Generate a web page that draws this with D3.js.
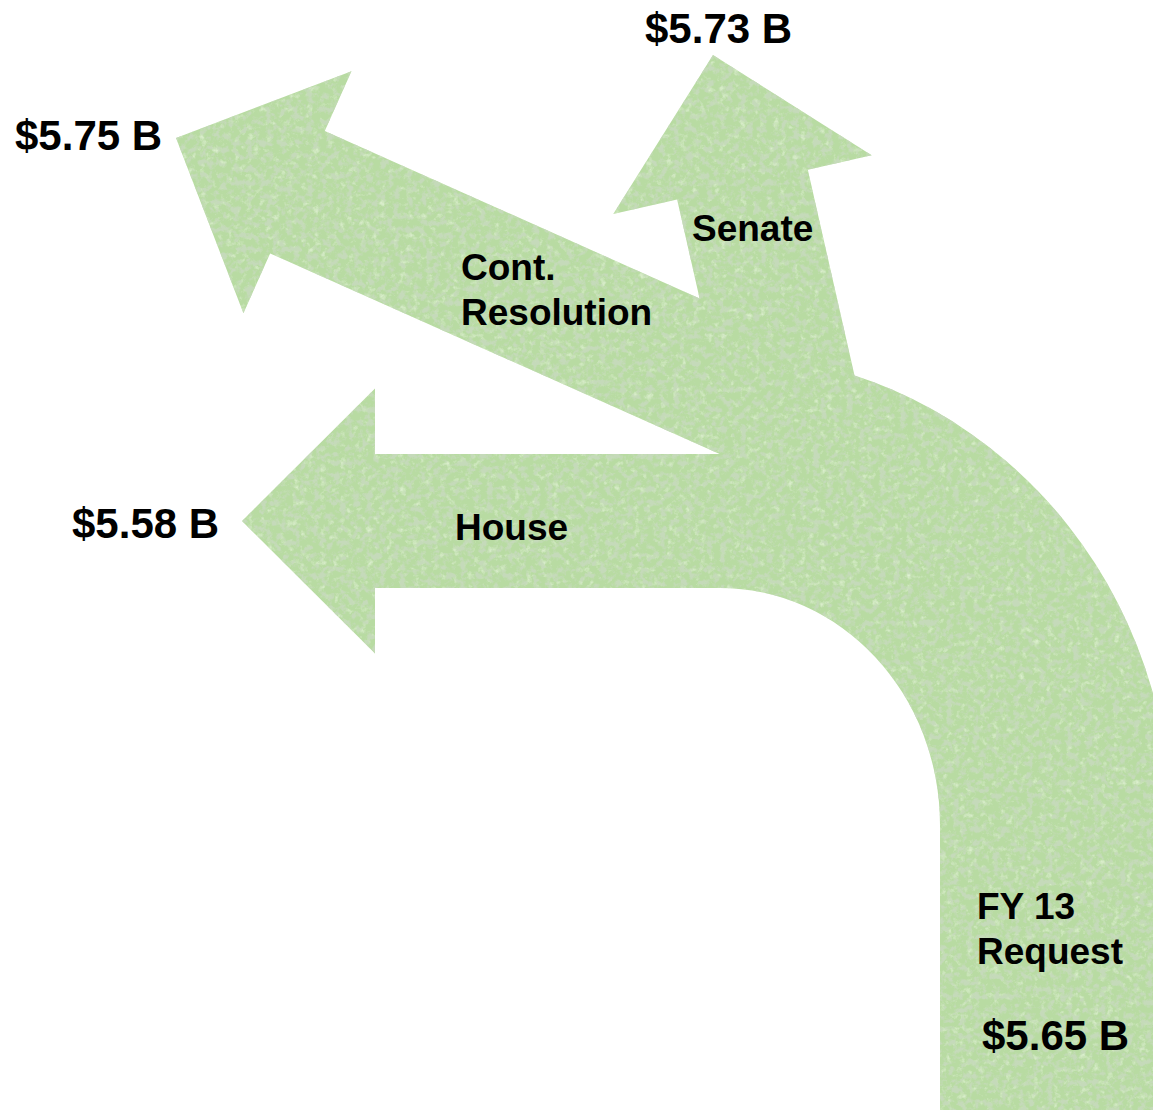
<!DOCTYPE html>
<html>
<head>
<meta charset="utf-8">
<script src="https://cdn.jsdelivr.net/npm/d3@7"></script>
<style>
  html, body { margin: 0; padding: 0; background: #ffffff; }
  svg { display: block; }
</style>
</head>
<body>
<svg id="chart" width="1153" height="1110"></svg>
<script>
// ---- data ----
const branchNames = ["Cont.\nResolution", "Senate", "House"];
const branchValues = [5.75, 5.73, 5.58];
const requestName = "FY 13\nRequest";
const requestValue = 5.65;
const unitSuffix = " B";

// ---- layout (geometry of the arrows, not data) ----
const W = 1153, H = 1110;
const headLen = 133, headHalf = 132.5, bodyHalf = 67;
const arrowLayout = [
  { tip: [176, 138], angle: 24.06, len: 640,
    label: { x: 461, y: 280 }, value: { x: 15, y: 150 } },
  { tip: [713, 55], angle: 77.2, len: 360,
    label: { x: 692, y: 241 }, value: { x: 645, y: 43 } },
  { tip: [242, 521], angle: 0, len: 518,
    label: { x: 455, y: 540 }, value: { x: 72, y: 538 } }
];
const trunk = { cx: 720, cy: 825, outerRx: 451, outerRy: 471, innerRx: 220, innerRy: 237, bottom: 1125 };
const requestLayout = { label: { x: 977, y: 919 }, value: { x: 982, y: 1050 } };

const fmt = v => d3.format("$.2f")(v) + unitSuffix;

const svg = d3.select("#chart");
const defs = svg.append("defs");

// felt-like texture
const filter = defs.append("filter")
  .attr("id", "felt")
  .attr("filterUnits", "userSpaceOnUse")
  .attr("x", 0).attr("y", 0).attr("width", W).attr("height", H);
filter.append("feTurbulence")
  .attr("type", "fractalNoise").attr("baseFrequency", 0.15)
  .attr("numOctaves", 4).attr("seed", 11).attr("result", "noise");
filter.append("feColorMatrix")
  .attr("in", "noise").attr("type", "matrix")
  .attr("values", "0 0 0 0 0.56  0 0 0 0 0.70  0 0 0 0 0.49  4.2 0 0 0 -1.95")
  .attr("result", "dark");
filter.append("feColorMatrix")
  .attr("in", "noise").attr("type", "matrix")
  .attr("values", "0 0 0 0 0.76  0 0 0 0 0.89  0 0 0 0 0.67  0 -2.2 0 0 1.0")
  .attr("result", "light");
filter.append("feComposite").attr("in", "dark").attr("in2", "SourceGraphic").attr("operator", "in").attr("result", "darkC");
filter.append("feComposite").attr("in", "light").attr("in2", "SourceGraphic").attr("operator", "in").attr("result", "lightC");
const merge = filter.append("feMerge");
merge.append("feMergeNode").attr("in", "SourceGraphic");
merge.append("feMergeNode").attr("in", "lightC");
merge.append("feMergeNode").attr("in", "darkC");

const fill = "#b8dba2";
const shapes = svg.append("g").attr("filter", "url(#felt)");

// trunk (FY 13 request) with curved bend
const t = trunk;
const trunkPath =
  `M${t.cx},${t.cy - t.outerRy}` +
  `A${t.outerRx},${t.outerRy} 0 0 1 ${t.cx + t.outerRx},${t.cy}` +
  `L${t.cx + t.outerRx},${t.bottom}L${t.cx + t.innerRx},${t.bottom}L${t.cx + t.innerRx},${t.cy}` +
  `A${t.innerRx},${t.innerRy} 0 0 0 ${t.cx},${t.cy - t.innerRy}Z`;
shapes.append("path").attr("d", trunkPath).attr("fill", fill);

// arrows
function arrowPath(a) {
  const r = a.angle * Math.PI / 180;
  const d = [Math.cos(r), Math.sin(r)], n = [-Math.sin(r), Math.cos(r)];
  const local = [[0, 0], [headLen, -headHalf], [headLen, -bodyHalf], [a.len, -bodyHalf],
                 [a.len, bodyHalf], [headLen, bodyHalf], [headLen, headHalf]];
  const pts = local.map(([u, v]) => [a.tip[0] + u * d[0] + v * n[0], a.tip[1] + u * d[1] + v * n[1]]);
  return d3.line().curve(d3.curveLinearClosed)(pts);
}
shapes.selectAll("path.arrow")
  .data(branchValues.map((v, i) => ({ v, name: branchNames[i], lay: arrowLayout[i] })))
  .join("path")
  .attr("class", "arrow")
  .attr("d", d => arrowPath(d.lay))
  .attr("fill", fill);

// text
const txt = svg.append("g")
  .attr("font-family", "'Liberation Sans', Arial, Helvetica, sans-serif")
  .attr("font-weight", "bold")
  .attr("fill", "#000");

function multiline(sel, str, x, y, size, lh) {
  const t = sel.append("text").attr("x", x).attr("y", y).attr("font-size", size);
  str.split("\n").forEach((line, i) => {
    t.append("tspan").attr("x", x).attr("dy", i === 0 ? 0 : lh).text(line);
  });
}

branchNames.forEach((name, i) => {
  const lay = arrowLayout[i];
  multiline(txt, name, lay.label.x, lay.label.y, 37, 45);
  txt.append("text").attr("x", lay.value.x).attr("y", lay.value.y)
    .attr("font-size", 42).text(fmt(branchValues[i]));
});
multiline(txt, requestName, requestLayout.label.x, requestLayout.label.y, 37, 45);
txt.append("text").attr("x", requestLayout.value.x).attr("y", requestLayout.value.y)
  .attr("font-size", 42).text(fmt(requestValue));
</script>
</body>
</html>
